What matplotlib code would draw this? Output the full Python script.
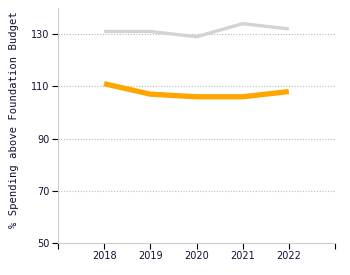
import matplotlib
matplotlib.use("Agg")
import matplotlib.pyplot as plt

years = [2018, 2019, 2020, 2021, 2022]
gray_series = [131, 131, 129, 134, 132]
orange_series = [111, 107, 106, 106, 108]
y_ticks = [50, 70, 90, 110, 130]
x_ticks = [2017, 2018, 2019, 2020, 2021, 2022, 2023]
x_labels = ["", "2018", "2019", "2020", "2021", "2022", ""]

fig = plt.figure(figsize=(3.5, 2.75), dpi=100)
ax = fig.add_axes([58/350, 32/275, 277/350, 235/275])

for y in y_ticks[1:]:
    ax.axhline(y, color="#bbbbbb", linestyle=(0, (1, 1.5)), linewidth=0.8, zorder=0)

ax.plot(years, gray_series, color="#d3d3d3", linewidth=2.4, solid_capstyle="butt")
ax.plot(years, orange_series, color="#ffa500", linewidth=3.8, solid_capstyle="butt")

ax.set_xlim(2017, 2023)
ax.set_ylim(50, 140)
ax.set_yticks(y_ticks)
ax.set_xticks(x_ticks)
ax.set_xticklabels(x_labels)

for s in ["top", "right"]:
    ax.spines[s].set_visible(False)
ax.spines["left"].set_color("#cccccc")
ax.spines["bottom"].set_color("#cccccc")
ax.tick_params(axis="both", labelsize=7, length=4, width=0.8, color="#000000", labelcolor="#111133", pad=2)

ax.set_ylabel("% Spending above Foundation Budget", family="DejaVu Sans Mono", fontsize=7.6, color="#111133")
ax.yaxis.set_label_coords(-0.14, 0.525)

fig.savefig("out.png", dpi=100)
